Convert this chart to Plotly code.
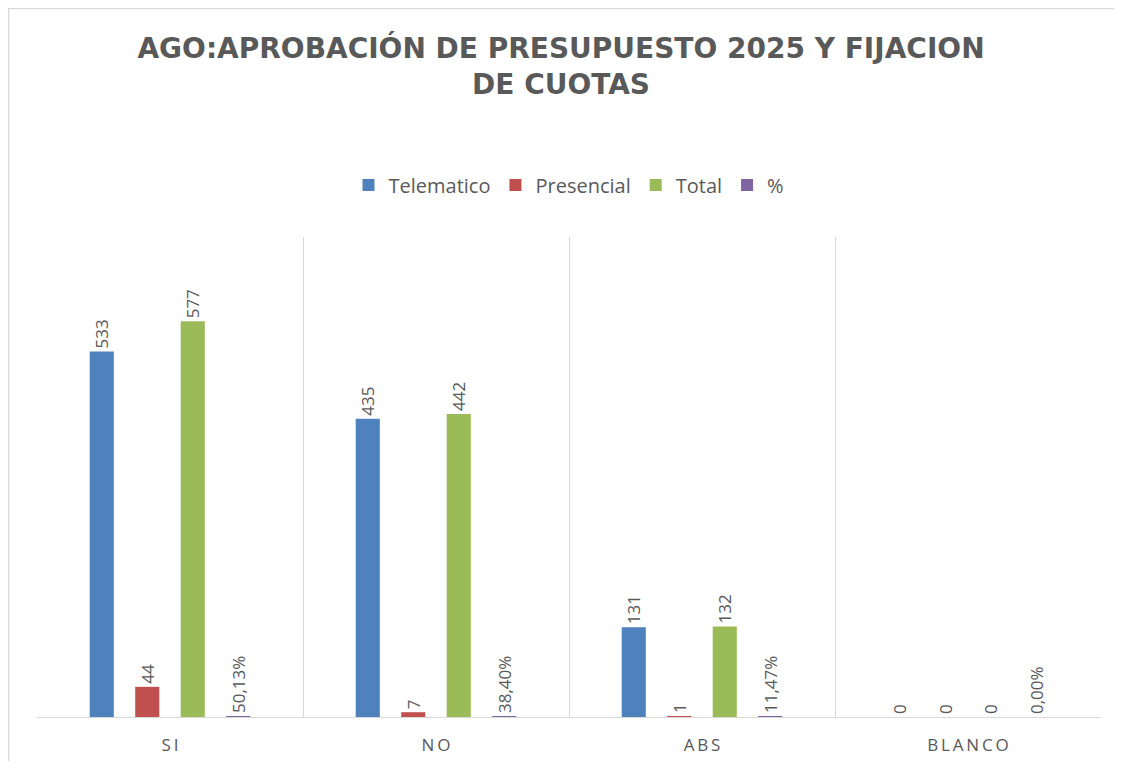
import plotly.graph_objects as go

categories = ["SI", "NO", "ABS", "BLANCO"]
telematico = [533, 435, 131, 0]
presencial = [44, 7, 1, 0]
total = [577, 442, 132, 0]
porcentaje = [0.5013, 0.3840, 0.1147, 0.0]

series_names = ["Telematico", "Presencial", "Total", "%"]
colors = ["#4F81BD", "#C0504D", "#9BBB59", "#8064A2"]

title_text = "AGO:APROBACIÓN DE PRESUPUESTO 2025 Y FIJACION<br>DE CUOTAS"

label_color = "#595959"
font_family = "Open Sans, Liberation Sans, sans-serif"

tick_labels = ["\u2009".join(list(c)) for c in categories]

def pct_label(v):
    return f"{v*100:.2f}%".replace(".", ",")

# page body has an 8px margin, so the figure is sized/offset accordingly
W, H = 1106, 753
ML, MR, MT, MB = 29, 13, 229, 44
PW, PH = W - ML - MR, H - MT - MB

fig = go.Figure()
series_values = [telematico, presencial, total, porcentaje]
for name, vals, col in zip(series_names, series_values, colors):
    if name == "%":
        txt = [pct_label(v) for v in vals]
    else:
        txt = [str(v) for v in vals]
    fig.add_trace(go.Bar(
        x=tick_labels, y=vals, name=name,
        marker=dict(color=col, line=dict(width=0)),
        text=txt, textposition="outside", textangle=-90,
        textfont=dict(color=label_color, size=17, family=font_family),
        cliponaxis=False, constraintext="none",
    ))

fig.update_layout(
    width=W, height=H,
    paper_bgcolor="white", plot_bgcolor="white",
    barmode="group", bargap=0.316, bargroupgap=0.47,
    margin=dict(l=ML, r=MR, t=MT, b=MB, autoexpand=False),
    title=dict(text=title_text, x=0.5, xanchor="center", y=1 - 50 / H, yanchor="top",
               font=dict(family="DejaVu Sans, sans-serif", size=28, color=label_color, weight="bold")),
    legend=dict(orientation="h", x=0.5, xanchor="center", y=1 + (MT - 177) / PH, yanchor="middle",
                font=dict(family=font_family, size=20, color=label_color),
                itemwidth=30, traceorder="normal"),
    font=dict(family=font_family, color=label_color),
    showlegend=True,
)
fig.update_xaxes(type="category", tickson="boundaries", showgrid=True, gridcolor="#D9D9D9",
                 gridwidth=1.3, ticks="", showline=True, linecolor="#D9D9D9", linewidth=1.3,
                 automargin=False,
                 tickfont=dict(family=font_family, size=17, color=label_color), ticklabelstandoff=12)
fig.update_yaxes(range=[0, 700], showgrid=False, showticklabels=False, zeroline=False,
                 showline=False, ticks="", automargin=False)

# outer chart border (only its top and left edges are visible in the reference)
fig.add_shape(type="rect", xref="paper", yref="paper",
              x0=(0.7 - ML) / PW, x1=1.2, y0=-0.3, y1=1 + (MT - 0.7) / PH,
              line=dict(color="#D9D9D9", width=1.3), layer="below")

fig.write_html("out.html")
